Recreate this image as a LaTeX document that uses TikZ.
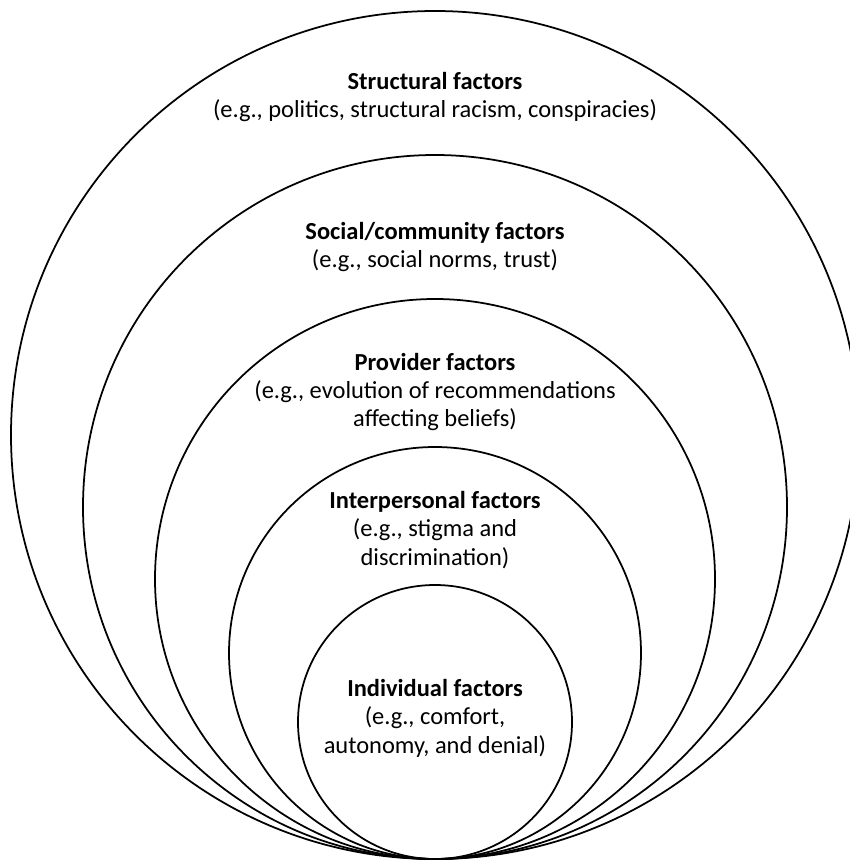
\documentclass[tikz,border=0pt]{standalone}
\usepackage{fontspec}
\setmainfont{Carlito}
\usepackage{tikz}
\usetikzlibrary{positioning}

\tikzset{
  ring/.style={draw, line width=1.25pt},
  factor/.style={align=center, font=\fontsize{17.4}{20.2}\selectfont}
}

\begin{document}
\begin{tikzpicture}[x=0.025cm, y=-0.025cm]

\useasboundingbox (0,0) rectangle (849,861);

\coordinate (base) at (435,859);
\draw [ring] (435,435) circle (424);
\draw [ring] (435,507) circle (352);
\draw [ring] (435,579) circle (280);
\draw [ring] (435,653) circle (206);
\draw [ring] (435,722) circle (137);

\node [factor] (structural) at (435,97) {\textbf{Structural factors}\\(e.g., politics, structural racism, conspiracies)};
\node [factor] (social) at (435,247) {\textbf{Social/community factors}\\(e.g., social norms, trust)};
\node [factor] (provider) at (435,392) {\textbf{Provider factors}\\(e.g., evolution of recommendations\\affecting beliefs)};
\node [factor] (interpersonal) at (435,530) {\textbf{Interpersonal factors}\\(e.g., stigma and\\discrimination)};
\node [factor] (individual) at (435,718) {\textbf{Individual factors}\\(e.g., comfort,\\autonomy, and denial)};
\end{tikzpicture}
\end{document}
